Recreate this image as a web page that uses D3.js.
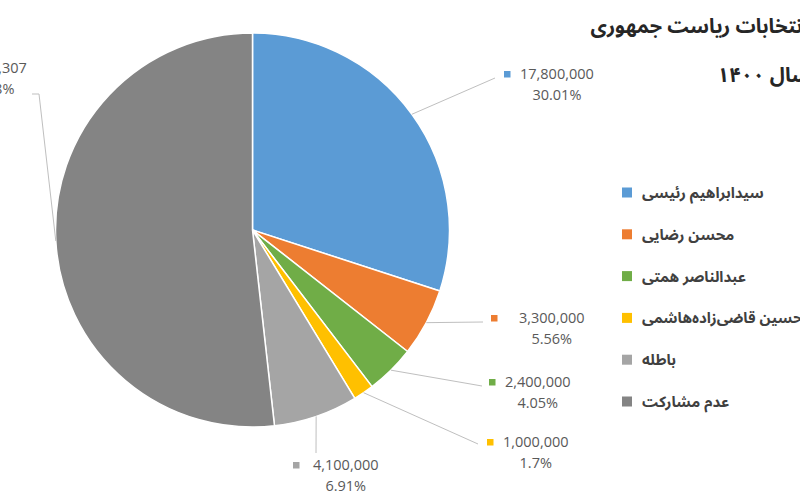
<!DOCTYPE html>
<html><head><meta charset="utf-8">
<script src="https://cdn.jsdelivr.net/npm/d3@7"></script>
<style>
html,body{margin:0;padding:0;background:#fff;overflow:hidden}
svg{display:block}
</style></head>
<body>
<svg id="chart" width="800" height="500"></svg>
<script>
// ---- data ----
const categories = ["سیدابراهیم رئیسی","محسن رضایی","عبدالناصر همتی","امیرحسین قاضی‌زاده‌هاشمی","باطله","عدم مشارکت"];
const values = [17800000, 3300000, 2400000, 1000000, 4100000, 30710307];
const percentLabels = ["30.01%","5.56%","4.05%","1.7%","6.91%","51.78%"];
const colors = ["#5B9BD5","#ED7D31","#70AD47","#FFC000","#A5A5A5","#848484"];
const titleLines = ["انتخابات ریاست جمهوری","سال ۱۴۰۰"];

// ---- layout ----
const W = 800, H = 500;
const cx = 252.5, cy = 230, R = 197;
// label layout: line end point, marker x, text start x, first baseline
const labelLayout = [
  {end:[495,78],  mx:504, tx:520, y:79},
  {end:[483,322], mx:491, tx:519, y:323},
  {end:[482,386], mx:489, tx:505, y:387},
  {end:[478,444], mx:487, tx:503, y:447},
  {end:[316,453], mx:293, tx:313, y:470},
  {end:[39,94],   mx:-63, tx:-47, y:73, tick:[32,94]}
];

const svg = d3.select("#chart");
const numFmt = d3.format(",");

const pie = d3.pie().value(d => d).sort(null);
const arcs = pie(values);
const arc = d3.arc().innerRadius(0).outerRadius(R);

const g = svg.append("g").attr("transform", `translate(${cx},${cy})`);
g.selectAll("path.slice").data(arcs).enter().append("path")
  .attr("class","slice")
  .attr("d", arc)
  .attr("fill", (d,i) => colors[i])
  .attr("stroke", "#fff")
  .attr("stroke-width", 1.5)
  .attr("stroke-linejoin","round");

// leader lines
arcs.forEach((a, i) => {
  const mid = (a.startAngle + a.endAngle) / 2;
  const sx = cx + R * Math.sin(mid), sy = cy - R * Math.cos(mid);
  const L = labelLayout[i];
  const pts = [[sx, sy], L.end];
  if (L.tick) pts.push(L.tick);
  svg.append("path")
    .attr("d", d3.line()(pts))
    .attr("fill","none")
    .attr("stroke","#BFBFBF")
    .attr("stroke-width",1);
});

// data labels
const lblFont = "'Open Sans', 'Liberation Sans', sans-serif";
arcs.forEach((a, i) => {
  const L = labelLayout[i];
  svg.append("rect")
    .attr("x", L.mx).attr("y", L.y - 8)
    .attr("width", 6.5).attr("height", 6.5)
    .attr("fill", colors[i]);
  const t1 = svg.append("text")
    .attr("x", L.tx).attr("y", L.y)
    .attr("font-family", lblFont).attr("font-size", 14.5)
    .attr("fill", "#595959")
    .text(numFmt(values[i]));
  const w = t1.node().getComputedTextLength();
  svg.append("text")
    .attr("x", L.tx + w/2).attr("y", L.y + 21)
    .attr("text-anchor","middle")
    .attr("font-family", lblFont).attr("font-size", 14.5)
    .attr("fill", "#595959")
    .text(percentLabels[i]);
});

// title (right end runs past the right edge, as in the reference)
const arFont = "'Noto Sans Arabic', 'Vazirmatn', 'DejaVu Sans', sans-serif";
svg.append("text")
  .attr("x", 808).attr("y", 33)
  .attr("text-anchor","start").attr("direction","rtl")
  .attr("font-family", arFont).attr("font-weight","bold").attr("font-size", 20)
  .attr("fill","#262626")
  .text(titleLines[0]);
svg.append("text")
  .attr("x", 811).attr("y", 82)
  .attr("text-anchor","start").attr("direction","rtl")
  .attr("font-family", arFont).attr("font-weight","bold").attr("font-size", 20.5)
  .attr("fill","#262626")
  .text(titleLines[1]);

// legend
const legY = d3.scalePoint().domain(d3.range(categories.length)).range([193, 402]);
const leg = svg.append("g");
categories.forEach((c, i) => {
  leg.append("rect")
    .attr("x", 622).attr("y", legY(i) - 5.5)
    .attr("width", 10).attr("height", 10)
    .attr("fill", colors[i]);
  leg.append("text")
    .attr("x", 642).attr("y", legY(i) + 5)
    .attr("font-family", arFont).attr("font-weight","bold").attr("font-size", 15)
    .attr("fill","#404040")
    .text(c);
});
</script>
</body></html>
